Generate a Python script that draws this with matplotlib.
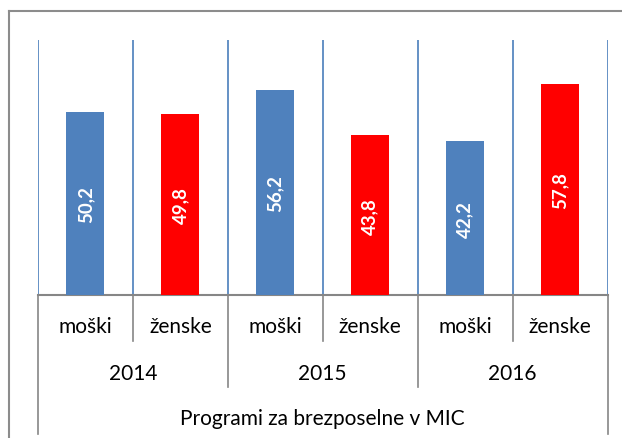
import numpy as np
import matplotlib.pyplot as plt
from matplotlib.lines import Line2D

# podatki
spol = ['moški', 'ženske', 'moški', 'ženske', 'moški', 'ženske']
leta = ['2014', '2015', '2016']
delezi = [50.2, 49.8, 56.2, 43.8, 42.2, 57.8]
naslov_osi = 'Programi za brezposelne v MIC'

modra = '#4F81BD'
rdeca = '#FF0000'
barve = [modra, rdeca] * 3

plt.rcParams['font.family'] = ['Lato', 'DejaVu Sans']

W, H = 622, 439
fig = plt.figure(figsize=(W / 100, H / 100), dpi=100)

# robovi risalnega prostora v pikslih
x0, x1, y_top, y_bot = 38, 607.5, 41, 296
ax = fig.add_axes([x0 / W, 1 - y_bot / H, (x1 - x0) / W, (y_bot - y_top) / H])

x = np.arange(len(delezi))
ax.bar(x, delezi, width=0.4, color=barve, zorder=3)
ax.set_xlim(-0.5, len(delezi) - 0.5)
ax.set_ylim(0, 70)

for i, v in enumerate(delezi):
    ax.text(i, v / 2, f'{v:.1f}'.replace('.', ','), rotation=90, ha='center', va='center',
            color='white', fontsize=13.5, fontweight='bold', zorder=4)

# navpične mrežne črte
for b in np.arange(-0.5, len(delezi), 1):
    ax.axvline(b, color='#4A7EBB', lw=1.2, zorder=1)

for s in ax.spines.values():
    s.set_visible(False)
ax.set_xticks([])
ax.set_yticks([])

# os kategorij z več nivoji
tr = ax.get_xaxis_transform()
ph = y_bot - y_top


def fy(py):
    return (y_bot - py) / ph


siva = '#868686'
ax.plot([-0.5, len(delezi) - 0.5], [0, 0], color=siva, lw=1.5, transform=tr, clip_on=False)
for b in np.arange(-0.5, len(delezi), 1):
    if b in (-0.5, len(delezi) - 0.5):
        dno = 435
    elif (b + 0.5) % 2 == 0:
        dno = 388
    else:
        dno = 342
    ax.plot([b, b], [0, fy(dno)], color=siva, lw=1.2, transform=tr, clip_on=False)

fs = 15
for i, s in enumerate(spol):
    ax.text(i, fy(327), s, ha='center', va='center', fontsize=fs, transform=tr)
for j, l in enumerate(leta):
    ax.text(2 * j + 0.5, fy(374), l, ha='center', va='center', fontsize=fs, transform=tr)
ax.text(2.5, fy(419), naslov_osi, ha='center', va='center', fontsize=fs, transform=tr)

# okvir grafa
fig.add_artist(Line2D([8.5 / W, 8.5 / W], [0, 1 - 12 / H], color='#8C8C8C', lw=1.5))
fig.add_artist(Line2D([8.5 / W, 1], [1 - 12 / H, 1 - 12 / H], color='#8C8C8C', lw=1.5))

fig.savefig('out.png', dpi=100)
